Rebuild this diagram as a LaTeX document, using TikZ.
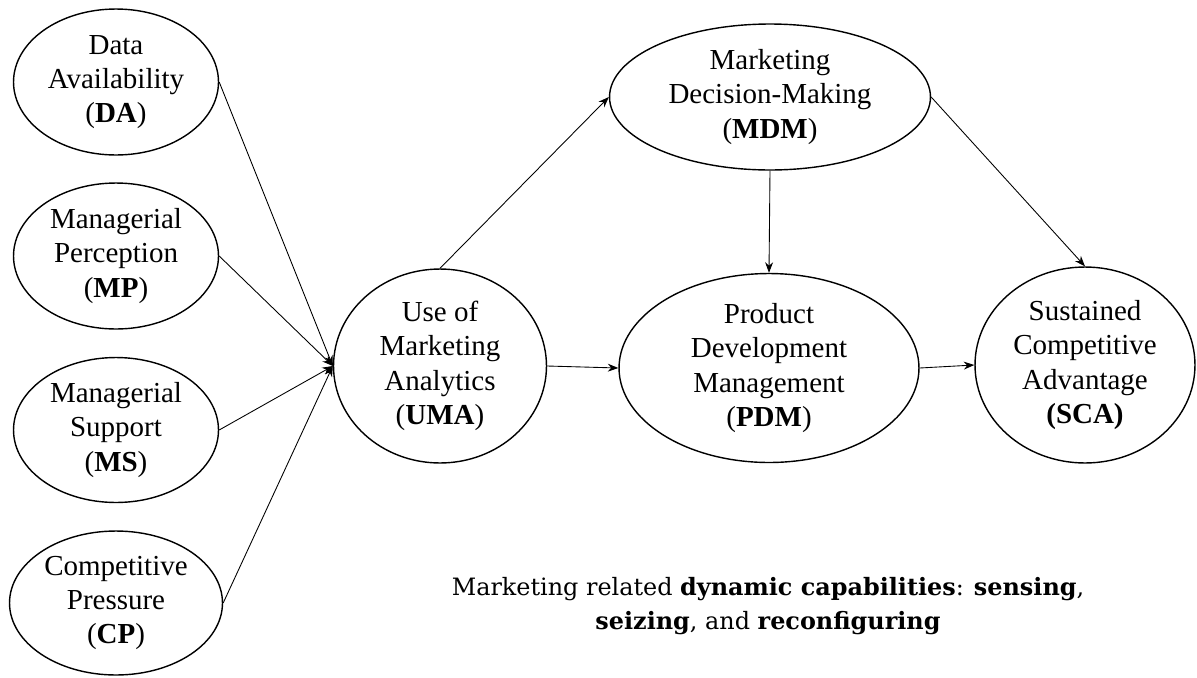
\documentclass[tikz,border=0pt]{standalone}
\usepackage{fontspec}
\setmainfont{Liberation Serif}
\newfontfamily\notefont{DejaVu Serif}
\usetikzlibrary{shapes.geometric,arrows.meta}

\begin{document}
\begin{tikzpicture}[x=0.02cm, y=-0.02cm,
    factor/.style={draw, ellipse, line width=0.8pt, inner sep=0pt, align=center,
      font=\fontsize{16.5}{19.5}\selectfont},
    link/.style={line width=0.5pt, -{Stealth[length=6pt,width=4.5pt]}}]
    \useasboundingbox (0,0) rectangle (1197,677);

    % antecedents
    \node[factor, minimum width=4.1cm, minimum height=2.92cm] (DA) at (116,82) {Data\\Availability\\(\textbf{DA})};
    \node[factor, minimum width=4.1cm, minimum height=2.92cm] (MP) at (116,256) {Managerial\\Perception\\(\textbf{MP})};
    \node[factor, minimum width=4.1cm, minimum height=2.9cm] (MS) at (116,430) {Managerial\\Support\\(\textbf{MS})};
    \node[factor, minimum width=4.26cm, minimum height=2.88cm] (CP) at (116,603) {Competitive\\Pressure\\(\textbf{CP})};

    % capabilities and outcome
    \node[factor, minimum width=4.26cm, minimum height=3.88cm] (UMA) at (440,366) {Use of\\Marketing\\Analytics\\(\textbf{UMA})};
    \node[factor, minimum width=6.42cm, minimum height=2.92cm] (MDM) at (770,97) {Marketing\\Decision-Making\\(\textbf{MDM})};
    \node[factor, minimum width=6.0cm, minimum height=3.78cm] (PDM) at (769,368) {Product\\Development\\Management\\(\textbf{PDM})};
    \node[factor, minimum width=4.4cm, minimum height=3.92cm] (SCA) at (1085,365) {Sustained\\Competitive\\Advantage\\\textbf{(SCA)}};

    % note
    \node[align=center, font=\notefont\fontsize{13.6}{19}\selectfont] (note) at (768,606)
      {Marketing related \textbf{dynamic capabilities}: \textbf{sensing},\\\textbf{seizing}, and \textbf{reconfiguring}};

    % links
    \draw[link] (DA.east) -- (UMA.west);
    \draw[link] (MP.east) -- (UMA.west);
    \draw[link] (MS.east) -- (UMA.west);
    \draw[link] (CP.east) -- (UMA.west);
    \draw[link] (UMA.north) -- (MDM.west);
    \draw[link] (UMA.east) -- (PDM.west);
    \draw[link] (MDM.south) -- (PDM.north);
    \draw[link] (MDM.east) -- (SCA.north);
    \draw[link] (PDM.east) -- (SCA.west);
\end{tikzpicture}
\end{document}
